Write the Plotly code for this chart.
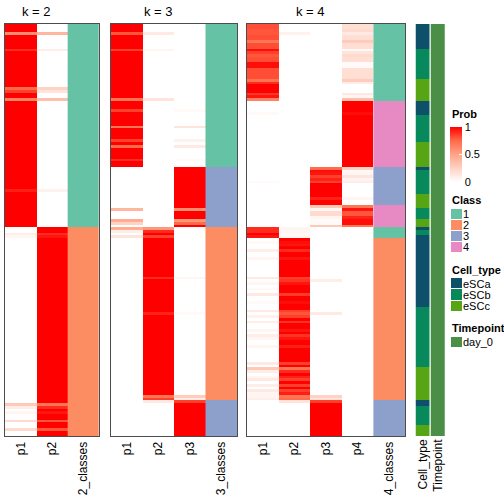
import plotly.graph_objects as go

N_ROWS = 150

# ---------------- data (run-length lists: (value, n_rows)) -------------
k2_class_runs = [(1, 74), (2, 76)]
k2_p1_runs = [(1, 3), (0.6, 1), (1, 5), (0.9, 1), (1, 13), (0.75, 1), (0.85, 1), (1, 2), (0.65, 1), (1, 32),
              (0.93, 1), (1, 13), (0, 2), (0.1, 1), (0.05, 1), (0, 60), (0.3, 1), (0.1, 1), (0, 1), (0.05, 1),
              (0, 2), (0.2, 1), (0, 2), (0.2, 1), (0, 2)]
k2_p2_runs = [(0, 3), (0.4, 1), (0, 5), (0.1, 1), (0, 13), (0.25, 1), (0.15, 1), (0, 2), (0.35, 1), (0, 32),
              (0.07, 1), (0, 13), (1, 2), (0.9, 1), (0.95, 1), (1, 60), (0.7, 1), (0.9, 1), (1, 1), (0.95, 1),
              (1, 2), (0.8, 1), (1, 2), (0.8, 1), (1, 2)]

k3_class_runs = [(1, 52), (3, 22), (2, 63), (3, 13)]
k3_p1_runs = [(1, 3), (0.8, 1), (1, 5), (0.85, 1), (1, 17), (0.7, 1), (1, 3), (0.85, 1), (1, 5), (0.7, 1),
              (1, 4), (0.85, 1), (1, 1), (0.75, 1), (1, 4), (0.9, 1), (1, 2),
              (0, 15), (0.4, 1), (0, 3), (0.45, 1), (0.25, 1), (0, 1),
              (0.45, 1), (0.1, 1), (0, 1), (0.15, 1), (0, 59),
              (0, 13)]
k3_p2_runs = [(0, 3), (0.12, 1), (0, 5), (0.05, 1), (0, 17), (0.15, 1), (0, 24),
              (0, 22),
              (0.55, 1), (0.9, 1), (1, 1), (0.85, 1), (1, 14), (0.9, 1), (1, 12), (0.92, 1), (1, 29),
              (0.7, 1), (0.85, 1),
              (0.12, 1), (0, 12)]
k3_p3_runs = [(0, 31), (0.03, 1), (0, 5), (0.15, 1), (0, 4), (0.07, 1), (0, 1), (0.12, 1), (0, 4), (0.03, 1),
              (0, 2),
              (1, 15), (0.6, 1), (1, 3), (0.55, 1), (0.75, 1), (1, 1),
              (0, 18), (0.05, 1), (0, 12), (0.03, 1), (0, 29), (0.28, 1), (0.1, 1),
              (0.85, 1), (1, 12)]

k4_class_runs = [(1, 28), (4, 24), (3, 14), (4, 8), (1, 4), (2, 59), (3, 13)]
k4_p1_runs = [(0.82, 2), (0.8, 2), (0.82, 2), (0.7, 1), (0.82, 2), (0.97, 1), (0.85, 1), (0.8, 1), (0.82, 2),
              (0.97, 2), (0.82, 4), (0.72, 1), (0.9, 1), (1, 3), (0.87, 1), (0.95, 1), (0.65, 1),
              (0, 4), (0.03, 1), (0, 19),
              (0, 5), (0.03, 1), (0, 8),
              (0, 8),
              (0.9, 2), (1, 1), (0.95, 1),
              (0, 1), (0.03, 1), (0, 2), (0.1, 1), (0, 2), (0.05, 1), (0, 6), (0.12, 1), (0, 1), (0.05, 1),
              (0, 1), (0.03, 1), (0, 1), (0.12, 1), (0, 2), (0.03, 1), (0, 2), (0.12, 1), (0, 1), (0.08, 1),
              (0, 1), (0.1, 1), (0, 2), (0.05, 1), (0, 1), (0.1, 1), (0.05, 1), (0, 2), (0.05, 1), (0, 5),
              (0.12, 1), (0, 1), (0.3, 1), (0.1, 1), (0, 1), (0.05, 1), (0.12, 1), (0, 1), (0.1, 1), (0, 1),
              (0.12, 1), (0.05, 1), (0.05, 1), (0.1, 1),
              (0, 13)]
k4_p2_runs = [(0, 3), (0.08, 1), (0, 24),
              (0, 46),
              (0.05, 2), (0.03, 1), (0.05, 1),
              (1, 1), (0.97, 1), (0.95, 1), (1, 1), (0.9, 1), (1, 2), (0.95, 1), (1, 6), (0.85, 1), (0.88, 1),
              (0.95, 1), (1, 3), (0.86, 1), (1, 2), (0.97, 1), (1, 2), (0.85, 1), (0.8, 1), (0.85, 1), (1, 1),
              (0.88, 1), (1, 2), (0.95, 1), (1, 1), (0.88, 1), (0.95, 1), (1, 2), (0.93, 1), (1, 5), (0.85, 1),
              (1, 1), (0.7, 1), (0.9, 1), (1, 1), (0.92, 1), (0.85, 1), (1, 1), (0.85, 1), (1, 1), (0.85, 1),
              (0.93, 1), (0.7, 1), (0.75, 1),
              (0.15, 1), (0, 12)]
k4_p3_runs = [(0, 52),
              (0.75, 1), (0.97, 1), (0.95, 1), (0.85, 1), (0.92, 1), (0.85, 1), (1, 5), (0.92, 1), (1, 2),
              (0.3, 1), (0.05, 1), (0.2, 2), (0.05, 1), (0.03, 2), (0.3, 1),
              (0, 4),
              (0, 15), (0.1, 1), (0, 11), (0.12, 1), (0, 29), (0.25, 1), (0.15, 1),
              (0.85, 1), (1, 12)]
k4_p4_runs = [(0.18, 2), (0.2, 1), (0.12, 1), (0.18, 2), (0.28, 1), (0.18, 2), (0.03, 1), (0.15, 1), (0.2, 1),
              (0.18, 2), (0.03, 2), (0.18, 4), (0.28, 1), (0.1, 1), (0, 3), (0.13, 1), (0.05, 1), (0.35, 1),
              (1, 4), (0.97, 1), (1, 19),
              (0.25, 1), (0.03, 1), (0.05, 1), (0.15, 1), (0.06, 1), (0.1, 1), (0, 5), (0.05, 1), (0, 2),
              (0.7, 1), (0.95, 1), (0.8, 2), (0.92, 1), (0.97, 2), (0.7, 1),
              (0, 76)]

cell_type_runs = [("eSCa", 9), ("eSCb", 11), ("eSCc", 8), ("eSCa", 5), ("eSCb", 10), ("eSCc", 9), ("eSCa", 1),
                  ("eSCb", 9), ("eSCc", 5), ("eSCb", 4), ("eSCc", 3), ("eSCa", 1), ("eSCb", 2), ("eSCa", 26),
                  ("eSCb", 22), ("eSCc", 12), ("eSCa", 2), ("eSCb", 7), ("eSCc", 4)]
timepoint_runs = [("day_0", 150)]

class_levels = ["1", "2", "3", "4"]
class_colors = ["#66c2a5", "#fc8d62", "#8da0cb", "#e78ac3"]
cell_levels = ["eSCa", "eSCb", "eSCc"]
cell_colors = ["#0e4f69", "#07895b", "#56a515"]
time_levels = ["day_0"]
time_colors = ["#4a8e48"]
prob_ticks = [0, 0.5, 1]

# ---------------- helpers ----------------
def expand(runs):
    out = []
    for v, n in runs:
        out += [v] * n
    assert len(out) == N_ROWS, (len(out), runs[:3])
    return out


def discrete_scale(colors):
    n = len(colors)
    if n == 1:
        return [[0, colors[0]], [1, colors[0]]]
    sc = []
    for i, c in enumerate(colors):
        sc.append([i / n, c])
        sc.append([(i + 1) / n, c])
    return sc


def edges(i0, n):
    """brick edges for n columns starting at column index i0"""
    return [i0 - 0.5 + j for j in range(n + 1)]


prob_scale = [[0, "#ffffff"], [0.25, "#ffd2c3"], [0.5, "#ffa387"], [0.75, "#ff6b4b"], [1, "#ff0000"]]
FONT = "Liberation Sans, Arial, Helvetica, sans-serif"
W = H = 504
BORDER = "#4d4d4d"


def X(px):
    return px / W


def Y(px):
    return 1 - px / H


row_edges = edges(0, N_ROWS)
fig = go.Figure()

panels = [
    (2, [k2_p1_runs, k2_p2_runs], k2_class_runs, (5, 99), "x", "y"),
    (3, [k3_p1_runs, k3_p2_runs, k3_p3_runs], k3_class_runs, (111, 237), "x2", "y2"),
    (4, [k4_p1_runs, k4_p2_runs, k4_p3_runs, k4_p4_runs], k4_class_runs, (247, 405), "x3", "y3"),
]

layout_axes = {}
annotations = []
for idx, (k, prob_runs, cls_runs, (x0, x1), xa, ya) in enumerate(panels):
    cols = [expand(r) for r in prob_runs]
    npc = len(cols)
    pnames = ["p%d" % (i + 1) for i in range(npc)]
    cname = "%d_classes" % k
    z = [[c[i] for c in cols] for i in range(N_ROWS)]
    fig.add_trace(go.Heatmap(z=z, x=edges(0, npc), y=row_edges, xaxis=xa, yaxis=ya, zmin=0, zmax=1,
                             colorscale=prob_scale, showscale=False, hoverinfo="skip"))
    cls = expand(cls_runs)
    fig.add_trace(go.Heatmap(z=[[v] for v in cls], x=edges(npc, 1), y=row_edges, xaxis=xa, yaxis=ya,
                             zmin=0.5, zmax=4.5, colorscale=discrete_scale(class_colors), showscale=False,
                             hoverinfo="skip"))
    xkey = "xaxis" if xa == "x" else "xaxis" + xa[1:]
    ykey = "yaxis" if ya == "y" else "yaxis" + ya[1:]
    layout_axes[xkey] = dict(domain=[X(x0), X(x1)], anchor=ya, range=[-0.5, npc + 0.5], tickmode="array",
                             tickvals=list(range(npc + 1)), ticktext=pnames + [cname], tickangle=-90, ticks="",
                             showline=True, mirror=True, linecolor=BORDER, linewidth=1, showgrid=False,
                             zeroline=False, automargin=False, tickfont=dict(size=12, family=FONT, color="black"))
    layout_axes[ykey] = dict(domain=[Y(436), Y(24)], anchor=xa, range=[N_ROWS - 0.5, -0.5], showticklabels=False,
                             ticks="", showline=True, mirror=True, linecolor=BORDER, linewidth=1, showgrid=False,
                             zeroline=False)
    cx = x0 + (x1 - x0) * npc / (npc + 1) / 2
    annotations.append(dict(text="k = %d" % k, x=X(cx), y=Y(11), xref="paper", yref="paper", showarrow=False,
                            xanchor="center", yanchor="middle", font=dict(size=13, family=FONT, color="black")))

# annotation columns
cell = expand(cell_type_runs)
tp = expand(timepoint_runs)
fig.add_trace(go.Heatmap(z=[[cell_levels.index(v) + 1] for v in cell], x=edges(0, 1), y=row_edges, xaxis="x4",
                         yaxis="y4", zmin=0.5, zmax=3.5, colorscale=discrete_scale(cell_colors), showscale=False,
                         xgap=1, hoverinfo="skip"))
fig.add_trace(go.Heatmap(z=[[time_levels.index(v) + 1] for v in tp], x=edges(1, 1), y=row_edges, xaxis="x4",
                         yaxis="y4", zmin=0.5, zmax=1.5, colorscale=discrete_scale(time_colors), showscale=False,
                         xgap=1, hoverinfo="skip"))
layout_axes["xaxis4"] = dict(domain=[X(415.5), X(446)], anchor="y4", range=[-0.5, 1.5], tickmode="array",
                             tickvals=[0, 1], ticktext=["Cell_type", "Timepoint"], tickangle=-90, ticks="",
                             showline=False, showgrid=False, zeroline=False, automargin=False,
                             tickfont=dict(size=12, family=FONT, color="black"))
layout_axes["yaxis4"] = dict(domain=[Y(436), Y(24)], anchor="x4", range=[N_ROWS - 0.5, -0.5], showticklabels=False,
                             ticks="", showline=False, showgrid=False, zeroline=False)

# ---------------- legends ----------------
# Prob colour bar
fig.add_trace(go.Heatmap(z=[[0, 1]], x=[0, 1], y=[0], xaxis="x8", yaxis="y8", zmin=0, zmax=1,
                         colorscale=prob_scale, showscale=True, opacity=0, hoverinfo="skip",
                         colorbar=dict(x=X(450), xanchor="left", xref="paper", y=Y(127), yanchor="top",
                                       yref="paper", len=55 / H, lenmode="fraction", thickness=12,
                                       thicknessmode="pixels", outlinewidth=0, xpad=0, ypad=0,
                                       tickvals=prob_ticks, ticktext=[str(t) for t in prob_ticks], ticks="inside",
                                       ticklen=3, tickcolor="white",
                                       tickfont=dict(size=11, family=FONT, color="black"))))
layout_axes["xaxis8"] = dict(domain=[0, 0.001], anchor="y8", visible=False)
layout_axes["yaxis8"] = dict(domain=[0, 0.001], anchor="x8", visible=False)

legend_blocks = [
    ("Class", class_levels, class_colors, 209, 253, 200, "x5", "y5"),
    ("Cell_type", cell_levels, cell_colors, 278, 312, 270, "x6", "y6"),
    ("Timepoint", time_levels, time_colors, 337, 348, 328, "x7", "y7"),
]
for title, levels, colors, yt, yb, ytitle, xa, ya in legend_blocks:
    nl = len(levels)
    fig.add_trace(go.Heatmap(z=[[i + 1] for i in range(nl)], x=edges(0, 1), y=edges(0, nl), xaxis=xa, yaxis=ya,
                             zmin=0.5, zmax=nl + 0.5, colorscale=discrete_scale(colors),
                             showscale=False, ygap=1, hoverinfo="skip"))
    n = xa[1:]
    layout_axes["xaxis" + n] = dict(domain=[X(451), X(462)], anchor=ya, range=[-0.5, 0.5], showticklabels=False,
                                    ticks="", showline=False, showgrid=False, zeroline=False, automargin=False)
    layout_axes["yaxis" + n] = dict(domain=[Y(yb), Y(yt)], anchor=xa, side="right", range=[nl - 0.5, -0.5],
                                    ticks="", showline=False, showgrid=False, zeroline=False,
                                    tickmode="array", tickvals=list(range(nl)), ticktext=levels, automargin=False,
                                    tickfont=dict(size=11, family=FONT, color="black"))
    annotations.append(dict(text="<b>%s</b>" % title, x=X(450), y=Y(ytitle), xref="paper", yref="paper",
                            showarrow=False, xanchor="left", yanchor="middle",
                            font=dict(size=11, family=FONT, color="black")))

annotations.append(dict(text="<b>Prob</b>", x=X(450), y=Y(114), xref="paper", yref="paper", showarrow=False,
                        xanchor="left", yanchor="middle", font=dict(size=11, family=FONT, color="black")))

fig.update_layout(width=W, height=H, margin=dict(l=0, r=0, t=0, b=0, autoexpand=False), paper_bgcolor="white",
                  plot_bgcolor="white", showlegend=False, annotations=annotations,
                  font=dict(family=FONT, size=12, color="black"), **layout_axes)

fig.write_html("out.html", config={"displayModeBar": False},
               post_script="document.body.style.margin='0';document.body.style.padding='0';")
